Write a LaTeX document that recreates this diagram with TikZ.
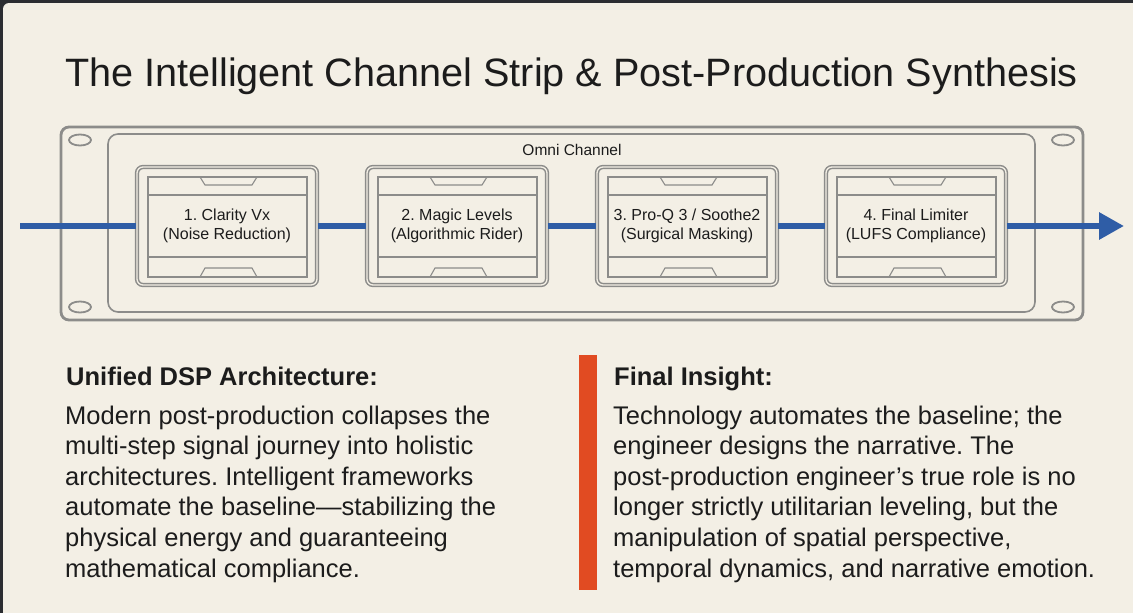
\documentclass[tikz,border=0pt]{standalone}
\usepackage{fontspec}
\setmainfont{Liberation Sans}
\usetikzlibrary{arrows.meta,calc}
\frenchspacing
\definecolor{cream}{HTML}{F3EFE5}
\definecolor{frameedge}{HTML}{2B2D31}
\definecolor{rackgray}{HTML}{8C8C8A}
\definecolor{sigblue}{HTML}{2F5DA6}
\definecolor{accent}{HTML}{E14B22}
\definecolor{ink}{HTML}{1C1C1C}
\tikzset{
  rackline/.style={draw=rackgray, line width=2.8pt},
  panelline/.style={draw=rackgray, line width=1.6pt},
  hole/.style={draw=rackgray, line width=1.8pt},
  module/.style={draw=rackgray, line width=1.5pt, double=cream, double distance=1.3pt,
    rounded corners=6pt, fill=cream, minimum width=180pt, minimum height=118pt,
    inner sep=0pt, align=center, text=ink,
    font=\fontsize{16}{19.5}\selectfont},
  modinner/.style={draw=rackgray, line width=1.1pt},
  sig/.style={draw=sigblue, line width=6pt},
  body/.style={anchor=base west, align=left, inner sep=0pt, text=ink,
    font=\fontsize{25.5}{30.6}\selectfont},
  head/.style={anchor=base west, inner sep=0pt, text=ink,
    font=\fontsize{25.5}{28}\selectfont\bfseries},
}
\newcommand{\moddeco}[1]{%
  \begin{scope}[shift={(#1.center)}]
    \draw[modinner] (-79,-49) rectangle (80,51);
    \draw[modinner] (-79,-31) -- (80,-31);
    \draw[modinner] (-79,31) -- (80,31);
    \draw[modinner] (-27,-49) -- (-22,-41) -- (25,-41) -- (30,-49);
    \draw[modinner] (-27,51) -- (-22,42) -- (25,42) -- (30,51);
  \end{scope}}
\begin{document}
\begin{tikzpicture}[x=1pt,y=-1pt]
  \fill[frameedge] (0,0) rectangle (1133,613);
  \fill[cream, rounded corners=6pt] (3,3) -- (1133,3) -- (1133,613) -- (3,613) -- cycle;
  \fill[cream] (20,3) rectangle (1133,613);
  \fill[cream] (3,20) rectangle (1133,613);
  \useasboundingbox (0,0) rectangle (1133,613);

  \node[anchor=base, inner sep=0pt, text=ink, font=\fontsize{39.6}{42}\selectfont]
    (title) at (571.5,86) {The Intelligent Channel Strip \& Post-Production Synthesis};

  % rack
  \draw[rackline, rounded corners=8pt] (61,127) rectangle (1083,320);
  \draw[panelline, rounded corners=10pt] (108,134) rectangle (1035,312);
  \foreach \hx/\hy in {80/140, 80/307, 1063/140, 1063/307}
    \draw[hole] (\hx,\hy) ellipse [x radius=11pt, y radius=5.5pt];
  \node[inner sep=0pt, anchor=base, text=ink, font=\fontsize{15.5}{18}\selectfont]
    (omni) at (572,155) {Omni Channel};

  % signal endpoints
  \coordinate (in) at (20,226);
  \coordinate (out) at (1124,226);

  % modules
  \node[module] (m1) at (227,226) {1. Clarity Vx\\(Noise Reduction)};
  \node[module] (m2) at (457,226) {2. Magic Levels\\(Algorithmic Rider)};
  \node[module] (m3) at (687,226) {3. Pro-Q 3 / Soothe2\\(Surgical Masking)};
  \node[module] (m4) at (916,226) {4. Final Limiter\\(LUFS Compliance)};
  \moddeco{m1}\moddeco{m2}\moddeco{m3}\moddeco{m4}

  % signal path
  \draw[sig] (in) -- (m1.west);
  \draw[sig] (m1.east) -- (m2.west);
  \draw[sig] (m2.east) -- (m3.west);
  \draw[sig] (m3.east) -- (m4.west);
  \draw[sig, -{Triangle[length=25pt,width=26pt]}] (m4.east) -- (out);

  % bottom text
  \node[head] (h1) at (66,385) {Unified DSP Architecture:};
  \node[body] (p1) at (65,577) {Modern post-production collapses the\\
    multi-step signal journey into holistic\\
    architectures. Intelligent frameworks\\
    automate the baseline\textemdash stabilizing the\\
    physical energy and guaranteeing\\
    mathematical compliance.};

  \node[fill=accent, minimum width=18pt, minimum height=235pt, inner sep=0pt, anchor=north west]
    (bar) at (579,355) {};
  \node[head] (h2) at (614,385) {Final Insight:};
  \node[body] (p2) at (613,577) {Technology automates the baseline; the\\
    engineer designs the narrative. The\\
    post-production engineer’s true role is no\\
    longer strictly utilitarian leveling, but the\\
    manipulation of spatial perspective,\\
    temporal dynamics, and narrative emotion.};
\end{tikzpicture}
\end{document}
